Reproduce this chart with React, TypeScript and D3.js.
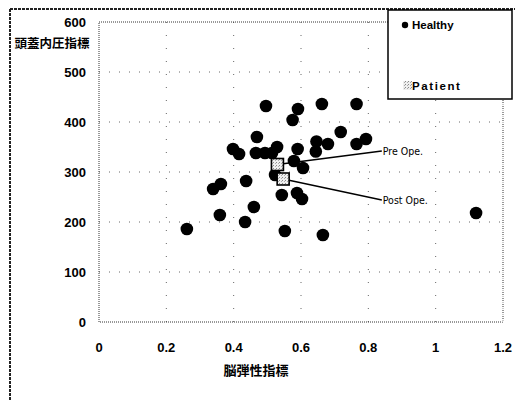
import React from "react";
import * as d3 from "d3";

const healthyX = [0.261,0.339,0.362,0.359,0.434,0.437,0.46,0.398,0.416,0.469,0.496,0.466,0.493,0.514,0.529,0.523,0.543,0.552,0.575,0.591,0.59,0.579,0.606,0.588,0.603,0.662,0.646,0.644,0.68,0.718,0.765,0.765,0.793,0.665,1.12];
const healthyY = [186,266,276,214,200,282,230,346,336,370,432,338,338,338,350,294,254,182,404,426,346,322,308,258,246,436,361,341,356,380,436,356,366,174,218];
const patientLabels = ["Pre Ope.", "Post Ope."];
const patientX = [0.53, 0.547];
const patientY = [315, 286];
const labelX = [0.84, 0.84];
const labelY = [342, 244];
const xTicks = [0, 0.2, 0.4, 0.6, 0.8, 1, 1.2];
const yTicks = [0, 100, 200, 300, 400, 500, 600];
const xTitle = "脳弾性指標";
const yTitle = "頭蓋内圧指標";
const legendNames = ["Healthy", "Patient"];

export default function App() {
  const x = d3.scaleLinear().domain([0, 1.2]).range([99, 503]);
  const y = d3.scaleLinear().domain([0, 600]).range([322, 22]);
  const bold = "Arial, 'Liberation Sans', sans-serif";
  const cjk = "'Noto Sans CJK JP', sans-serif";
  return (
    <div style={{ position: "fixed", left: 0, top: 0 }}>
      <svg width={515} height={401} style={{ display: "block", background: "#fff" }}>
        <defs>
          <pattern id="dither" width="3" height="3" patternUnits="userSpaceOnUse">
            <rect width="3" height="3" fill="#eee" />
            <rect x="0" y="0" width="1" height="1" fill="#888" />
            <rect x="2" y="1" width="1" height="1" fill="#aaa" />
          </pattern>
        </defs>
        {/* outer frame */}
        <line x1={10} y1={9} x2={515} y2={9} stroke="#222" strokeWidth={2} strokeDasharray="3,1" />
        <line x1={10} y1={9} x2={10} y2={401} stroke="#222" strokeWidth={2} strokeDasharray="3,1" />
        {/* grid */}
        {yTicks.filter((t) => t > 0 && t < 600).map((t) => (
          <line key={"gy" + t} x1={x(0)} x2={x(1.2)} y1={y(t)} y2={y(t)} stroke="#666" strokeWidth={1} strokeDasharray="1,9" />
        ))}
        {xTicks.filter((t) => t > 0 && t < 1.2).map((t) => (
          <line key={"gx" + t} x1={x(t)} x2={x(t)} y1={y(0)} y2={y(600)} stroke="#666" strokeWidth={1} strokeDasharray="1,12" />
        ))}
        {/* plot border */}
        <rect x={x(0)} y={y(600)} width={x(1.2) - x(0)} height={y(0) - y(600)} fill="none" stroke="#333" strokeWidth={1} strokeDasharray="1,1" />
        <line x1={x(1.2)} x2={x(1.2)} y1={y(0)} y2={y(600)} stroke="#fff" strokeWidth={1} strokeDasharray="3,3" />
        {/* tick labels */}
        {yTicks.map((t) => (
          <text key={"yl" + t} x={86} y={y(t)} dy="0.35em" textAnchor="end" fontFamily={bold} fontWeight="bold" fontSize={13}>
            {t}
          </text>
        ))}
        {xTicks.map((t) => (
          <text key={"xl" + t} x={x(t)} y={347} dy="0.35em" textAnchor="middle" fontFamily={bold} fontWeight="bold" fontSize={13}>
            {String(t)}
          </text>
        ))}
        <text x={52} y={44} dy="0.35em" textAnchor="middle" fontFamily={cjk} fontWeight="bold" fontSize={12.5}>
          {yTitle}
        </text>
        <text x={256} y={370} dy="0.35em" textAnchor="middle" fontFamily={cjk} fontWeight="bold" fontSize={13}>
          {xTitle}
        </text>
        {/* annotation lines */}
        {patientX.map((px, i) => (
          <line key={"al" + i} x1={x(px)} y1={y(patientY[i])} x2={x(labelX[i])} y2={y(labelY[i])} stroke="#000" strokeWidth={1.3} />
        ))}
        {/* healthy dots */}
        {healthyX.map((hx, i) => (
          <circle key={"h" + i} cx={x(hx)} cy={y(healthyY[i])} r={6.3} fill="#000" />
        ))}
        {/* patient markers */}
        {patientX.map((px, i) => (
          <rect key={"p" + i} x={x(px) - 6} y={y(patientY[i]) - 6} width={12} height={12} fill="url(#dither)" stroke="#000" strokeWidth={1.6} />
        ))}
        {patientLabels.map((l, i) => (
          <text key={"lt" + i} x={x(labelX[i]) + 1} y={y(labelY[i])} dy="0.35em" fontFamily="'DejaVu Sans Condensed', 'DejaVu Sans', sans-serif" fontSize={10.5}>
            {l}
          </text>
        ))}
        {/* legend */}
        <rect x={388} y={10} width={124} height={89} fill="#fff" stroke="#000" strokeWidth={1.5} />
        <circle cx={405} cy={25} r={3.2} fill="#000" />
        <text x={412} y={25} dy="0.35em" fontFamily={bold} fontWeight="bold" fontSize={11.5}>
          {legendNames[0]}
        </text>
        <rect x={403} y={81} width={9} height={9} fill="url(#dither)" />
        <text x={412} y={85.5} dy="0.35em" fontFamily={bold} fontWeight="bold" fontSize={11.5} letterSpacing={1.6}>
          {legendNames[1]}
        </text>
      </svg>
    </div>
  );
}
